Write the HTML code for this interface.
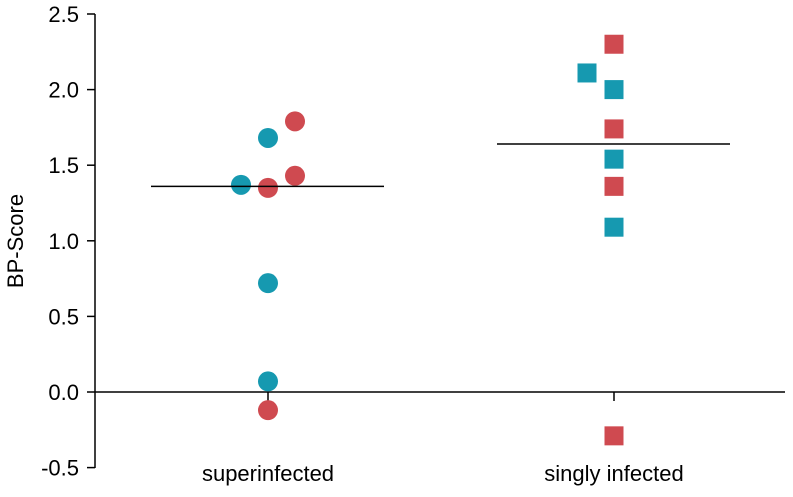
<!DOCTYPE html>
<html><head><meta charset="utf-8"><style>
html,body{margin:0;padding:0;background:#fff;}
svg text{font-family:"Liberation Sans",Arial,sans-serif;}
</style></head><body>
<svg id="chart" width="793" height="492" xmlns="http://www.w3.org/2000/svg"></svg>
<script>
const categories = ["superinfected", "singly infected"];
const superValues = [1.37, 1.68, 1.79, 1.35, 1.43, 0.72, 0.07, -0.12];
const superColors = ["teal","teal","red","red","red","teal","teal","red"];
const superJitter = [-1, 0, 1, 0, 1, 0, 0, 0];
const singlyValues = [2.30, 2.11, 2.00, 1.74, 1.54, 1.36, 1.09, -0.29];
const singlyColors = ["red","teal","teal","red","teal","red","teal","red"];
const singlyJitter = [0, -1, 0, 0, 0, 0, 0, 0];
const means = [1.36, 1.64];
const yTicks = [-0.5, 0.0, 0.5, 1.0, 1.5, 2.0, 2.5];

const svg = document.getElementById('chart');
const NS = 'http://www.w3.org/2000/svg';
const COL = {teal:'#1699b0', red:'#cf4a50'};
const y = v => 392 - v * 151.2;
const xc = i => [268, 614][i];
function mk(tag, attrs, parent){ const e=document.createElementNS(NS,tag); for(const k in attrs) e.setAttribute(k,attrs[k]); (parent||svg).appendChild(e); return e; }

const ax = mk('line',{x1:95,y1:14,x2:95,y2:468,stroke:'#000','stroke-width':1.5});


yTicks.forEach(t=>{
  const tl = mk('line',{x1:87,y1:y(t),x2:95,y2:y(t),stroke:'#000','stroke-width':1.5});
  
  
  const tx = mk('text',{x:79,y:y(t)+8,'text-anchor':'end','font-size':22,fill:'#000'});
  tx.textContent = t.toFixed(1);
  
  
});
const yt = mk('text',{x:0,y:0,'font-size':22,'text-anchor':'middle',transform:'translate(23,241) rotate(-90)'});
yt.textContent='BP-Score';



const zl = mk('line',{x1:95,y1:y(0),x2:785,y2:y(0),stroke:'#000','stroke-width':1.5});


categories.forEach((c,i)=>{
  const t = mk('line',{x1:xc(i),y1:y(0),x2:xc(i),y2:y(0)+9,stroke:'#000','stroke-width':1.5});
  
  
  const l = mk('text',{x:xc(i),y:481,'text-anchor':'middle','font-size':22});
  l.textContent=c;
  
  
});

superValues.forEach((v,k)=>{
  const c = mk('circle',{cx:xc(0)+superJitter[k]*27,cy:y(v),r:10,fill:COL[superColors[k]]});
  
  
});
singlyValues.forEach((v,k)=>{
  const s = mk('rect',{x:xc(1)+singlyJitter[k]*27-9.5,y:y(v)-9.5,width:19,height:19,fill:COL[singlyColors[k]]});
  
  
});

means.forEach((m,i)=>{
  const l = mk('line',{x1:xc(i)-117,y1:y(m),x2:xc(i)+116,y2:y(m),stroke:'#000','stroke-width':1.5});
  
  
});
</script>
</body></html>
